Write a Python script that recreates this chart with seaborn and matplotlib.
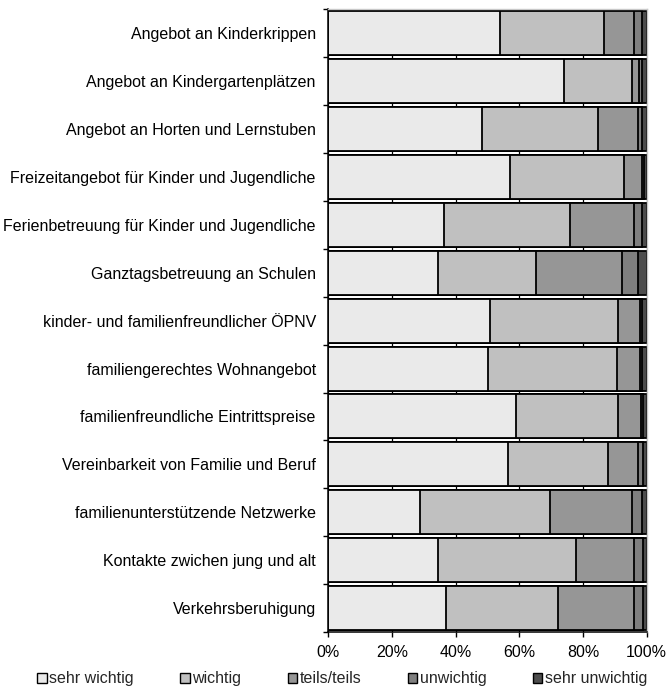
import numpy as np
import pandas as pd
import seaborn as sns
import matplotlib.pyplot as plt
from matplotlib.patches import Patch
from matplotlib.ticker import FixedLocator

categories = [
    "Angebot an Kinderkrippen",
    "Angebot an Kindergartenplätzen",
    "Angebot an Horten und Lernstuben",
    "Freizeitangebot für Kinder und Jugendliche",
    "Ferienbetreuung für Kinder und Jugendliche",
    "Ganztagsbetreuung an Schulen",
    "kinder- und familienfreundlicher ÖPNV",
    "familiengerechtes Wohnangebot",
    "familienfreundliche Eintrittspreise",
    "Vereinbarkeit von Familie und Beruf",
    "familienunterstützende Netzwerke",
    "Kontakte zwichen jung und alt",
    "Verkehrsberuhigung",
]

sehr_wichtig   = [53.9, 74.0, 48.4, 57.1, 36.3, 34.5, 50.8, 50.1, 59.0, 56.5, 28.8, 34.5, 37.0]
wichtig        = [32.7, 21.3, 36.2, 35.9, 39.6, 30.7, 40.1, 40.5, 31.9, 31.4, 40.8, 43.4, 35.1]
teils_teils    = [ 9.4,  2.3, 12.8,  5.4, 20.1, 26.9,  7.0,  7.3,  7.3,  9.5, 25.7, 18.1, 23.9]
unwichtig      = [ 2.4,  0.8,  1.0,  0.6,  2.4,  5.1,  0.7,  0.7,  0.5,  1.3,  3.1,  2.9,  2.9]
sehr_unwichtig = [ 1.6,  1.6,  1.6,  1.0,  1.6,  2.8,  1.4,  1.4,  1.3,  1.3,  1.6,  1.1,  1.1]

levels = ["sehr wichtig", "wichtig", "teils/teils", "unwichtig", "sehr unwichtig"]
colors = ["#eaeaea", "#c0c0c0", "#969696", "#7f7f7f", "#4d4d4d"]
x_ticks = [0, 20, 40, 60, 80, 100]
x_labels = ["0%", "20%", "40%", "60%", "80%", "100%"]

sns.set_theme(style="white")
plt.rcParams["font.family"] = ["Liberation Sans", "DejaVu Sans"]
FS = 11.5

df = pd.DataFrame(
    dict(zip(levels, [sehr_wichtig, wichtig, teils_teils, unwichtig, sehr_unwichtig])),
    index=categories,
)
cum = df.cumsum(axis=1)

fig = plt.figure(figsize=(6.67, 6.91), dpi=100)
ax = fig.add_axes([0.4922, 0.0854, 0.4774, 0.9011])

# stacked bars: draw cumulative totals from the longest to the shortest
for lvl, col in reversed(list(zip(levels, colors))):
    plot_df = pd.DataFrame({"Anteil": cum[lvl].values, "Merkmal": categories})
    sns.barplot(data=plot_df, x="Anteil", y="Merkmal", orient="h", color=col,
                saturation=1, edgecolor="black", linewidth=1.3, width=0.92, ax=ax)

n = len(categories)
ax.set_xlim(0, 100)
ax.set_ylim(n - 0.5, -0.5)
ax.set_xlabel("")
ax.set_ylabel("")

ax.set_xticks(x_ticks)
ax.set_xticklabels(x_labels, fontsize=FS, color="black")
ax.tick_params(axis="x", which="major", bottom=True, direction="out",
               length=3.5, width=1, color="black", pad=6)

ax.set_yticks(range(n))
ax.set_yticklabels(categories, fontsize=FS, color="black")
ax.tick_params(axis="y", which="major", left=True, length=0, pad=9)
ax.yaxis.set_minor_locator(FixedLocator(np.arange(-0.5, n, 1.0)))
ax.tick_params(axis="y", which="minor", left=True, direction="out",
               length=3.5, width=1, color="black")

ax.xaxis.grid(True, color="black", linewidth=0.9)
ax.yaxis.grid(False)
ax.set_axisbelow(True)

for side in ("left", "bottom"):
    ax.spines[side].set_color("black")
    ax.spines[side].set_linewidth(1.1)
for side in ("top", "right"):
    ax.spines[side].set_color("#c8c8c8")
    ax.spines[side].set_linewidth(1.0)

handles = [Patch(facecolor=c, edgecolor="black", linewidth=1.0) for c in colors]
fig.legend(handles, levels, loc="center", bbox_to_anchor=(0.513, 0.0174), ncol=5,
           frameon=False, fontsize=FS, handlelength=0.6, handleheight=0.6,
           handletextpad=0.15, columnspacing=2.9, borderaxespad=0)

fig.savefig("out.png", dpi=100)
